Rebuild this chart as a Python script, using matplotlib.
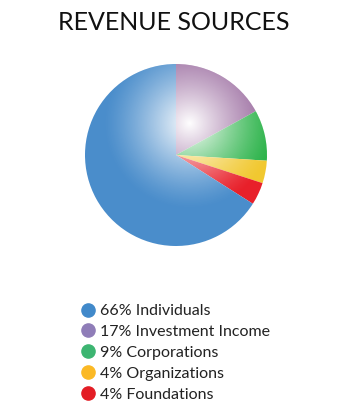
import numpy as np
import matplotlib.pyplot as plt
from matplotlib.lines import Line2D
from matplotlib.patches import Circle

plt.rcParams['font.family'] = ['Lato', 'DejaVu Sans']

# data, in clockwise drawing order from 12 o'clock
names = ['Investment Income', 'Corporations', 'Organizations', 'Foundations', 'Individuals']
shares = [17, 9, 4, 4, 66]
wedge_colors = ['#9a6b9f', '#2cb34a', '#f1c830', '#e8202a', '#4a8dcb']

# legend order
legend_names = ['Individuals', 'Investment Income', 'Corporations', 'Organizations', 'Foundations']
legend_shares = [66, 17, 9, 4, 4]
legend_colors = ['#4189ca', '#8f7db8', '#3db571', '#fbb925', '#e31d25']

W, H = 353, 420
fig = plt.figure(figsize=(W / 100, H / 100), dpi=100)

# pie axes, centre ~(176,155) px, radius ~91 px
cx, cy, r = 176, 155, 91
ax = fig.add_axes([(cx - r) / W, (H - cy - r) / H, 2 * r / W, 2 * r / H])
wedges, _ = ax.pie(shares, colors=wedge_colors, startangle=90, counterclock=False,
                   radius=1, wedgeprops=dict(linewidth=0))
ax.set_xlim(-1, 1)
ax.set_ylim(-1, 1)
ax.set_aspect('equal')
ax.axis('off')

# radial white highlight
n = 400
xs = np.linspace(-1, 1, n)
X, Y = np.meshgrid(xs, xs)
d = np.hypot(X - 0.15, Y - 0.35)
alpha = np.clip(1 - d / 0.95, 0, 1) ** 1.3
img = np.ones((n, n, 4))
img[..., 3] = alpha
im = ax.imshow(img, extent=(-1, 1, -1, 1), origin='lower', zorder=3, interpolation='bilinear')
clip = Circle((0, 0), 1, transform=ax.transData)
im.set_clip_path(clip)

fig.text(174 / W, 1 - 23 / H, 'REVENUE SOURCES', ha='center', va='center',
         fontsize=18, color='#111111')

handles = [Line2D([], [], marker='o', linestyle='none', markersize=9.5,
                  markerfacecolor=c, markeredgecolor=c) for c in legend_colors]
labels = [f'{s}% {nm}' for s, nm in zip(legend_shares, legend_names)]
fig.legend(handles, labels, loc='upper left', bbox_to_anchor=(74 / W, 1 - 296 / H),
           frameon=False, fontsize=11.5, handlelength=0.8, handletextpad=0.35,
           labelspacing=0.42, borderpad=0, labelcolor='#222222')

fig.savefig('out.png', dpi=100)
